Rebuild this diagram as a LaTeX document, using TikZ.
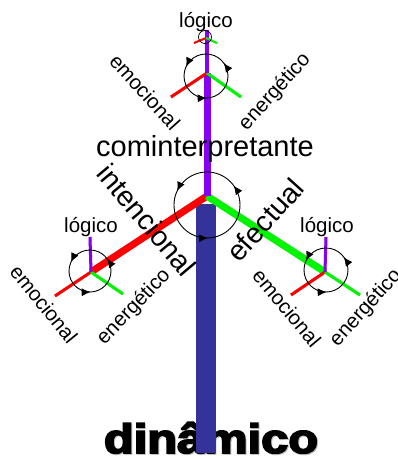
\documentclass[tikz,border=0pt]{standalone}
\usepackage{fontspec}
\setmainfont{Liberation Sans}
\newfontfamily\heavyfont[FakeBold=4]{Liberation Sans Bold}
\usetikzlibrary{decorations.markings,arrows.meta}
\definecolor{vio}{RGB}{135,0,240}
\definecolor{rd}{RGB}{255,0,0}
\definecolor{gr}{RGB}{0,245,0}
\definecolor{navy}{RGB}{51,51,153}
\definecolor{shd}{RGB}{195,195,195}
\tikzset{
  thick axis/.style={line width=7pt},
  thin axis/.style={line width=3pt},
  tiny axis/.style={line width=2pt},
  shadow/.style={draw=shd, shift={(4,-6)}},
  rot/.style={draw=black, line width=0.9pt, postaction={decorate},
    decoration={markings,
      mark=at position 0.1 with {\arrow{Latex[length=9pt,width=8pt]}},
      mark=at position 0.43 with {\arrow{Latex[length=9pt,width=8pt]}},
      mark=at position 0.755 with {\arrow{Latex[length=9pt,width=8pt]}}}},
  small/.style={inner sep=0pt, font=\fontsize{20.5}{24}\selectfont},
  big/.style={inner sep=0pt, font=\fontsize{28.5}{33}\selectfont},
}
\begin{document}
\begin{tikzpicture}[x=1pt,y=1pt]
\useasboundingbox (0,0) rectangle (398,-459);
% origins and ends
\coordinate (O) at (207,-196);
\coordinate (L) at (91,-272);
\coordinate (R) at (325,-272);
\coordinate (T) at (207,-73);
\coordinate (U) at (206,-38);
\coordinate (Ptop) at (207,-30);
\coordinate (Lr) at (55,-296);
\coordinate (Lg) at (123,-294);
\coordinate (Lp) at (90,-237);
\coordinate (Rr) at (291,-295);
\coordinate (Rg) at (360,-295);
\coordinate (Rp) at (326,-237);
\coordinate (Tr) at (171,-97);
\coordinate (Tg) at (241,-97);
\coordinate (Ur) at (194,-43);
\coordinate (Ug) at (217,-43);
% shadows
\begin{scope}[shadow]
  \draw[thick axis] (O) -- (L);
  \draw[thick axis] (O) -- (R);
  \draw[thick axis] (O) -- (T);
  \draw[thin axis] (L) -- (Lr);
  \draw[thin axis] (L) -- (Lg);
  \draw[thin axis] (L) -- (Lp);
  \draw[thin axis] (R) -- (Rr);
  \draw[thin axis] (R) -- (Rg);
  \draw[thin axis] (R) -- (Rp);
  \draw[thin axis] (T) -- (Tr);
  \draw[thin axis] (T) -- (Tg);
  \draw[thin axis] (T) -- (U);
  \draw[tiny axis] (U) -- (Ur);
  \draw[tiny axis] (U) -- (Ug);
\end{scope}
% dinamico text
\node[anchor=base, inner sep=0pt, text=shd, xscale=1.22, yscale=1.03, font=\heavyfont\fontsize{40}{44}\selectfont] (dinsh) at (212,-454) {dinâmico};
\node[anchor=base, inner sep=0pt, xscale=1.22, yscale=1.03, font=\heavyfont\fontsize{40}{44}\selectfont] (din) at (211,-453) {dinâmico};
% blue bar
\fill[navy] (196,-204) rectangle (216,-453);
% colored axes
\draw[rd, thick axis] (O) -- (L);
\draw[gr, thick axis] (O) -- (R);
\draw[vio, thick axis] (O) -- (T);
\draw[rd, thin axis] (L) -- (Lr);
\draw[gr, thin axis] (L) -- (Lg);
\draw[vio, thin axis] (L) -- (Lp);
\draw[rd, thin axis] (R) -- (Rr);
\draw[gr, thin axis] (R) -- (Rg);
\draw[vio, thin axis] (R) -- (Rp);
\draw[rd, thin axis] (T) -- (Tr);
\draw[gr, thin axis] (T) -- (Tg);
\draw[vio, line width=3.5pt] (T) -- (Ptop);
\draw[rd, tiny axis] (U) -- (Ur);
\draw[gr, tiny axis] (U) -- (Ug);
% rotation circles
\draw[rot] (207,-205) circle[radius=33pt];
\draw[rot] (206,-76) circle[radius=22pt];
\draw[rot] (90,-271) circle[radius=21pt];
\draw[rot] (326,-270) circle[radius=22pt];
\draw[black, line width=0.7pt] (205,-37) circle[radius=6.5pt];
% labels
\node[small, anchor=base] (lt) at (206,-27) {lógico};
\node[small, rotate=-48] (et) at (145,-92) {emocional};
\node[small, rotate=48] (nt) at (275,-92) {energético};
\node[inner sep=0pt, anchor=base, font=\fontsize{29}{33}\selectfont] (ci) at (205,-156) {cominterpretante};
\node[big, rotate=-50] (int) at (147,-220) {intencional};
\node[big, rotate=48] (ef) at (265,-220) {efectual};
\node[small, anchor=base] (ll) at (91,-232) {lógico};
\node[small, rotate=-51] (el) at (44,-304) {emocional};
\node[small, rotate=46] (nl) at (134,-307) {energético};
\node[small, anchor=base] (lr) at (327,-232) {lógico};
\node[small, rotate=-50] (er) at (287,-308) {emocional};
\node[small, rotate=48] (nr) at (366,-308) {energético};
\end{tikzpicture}
\end{document}
